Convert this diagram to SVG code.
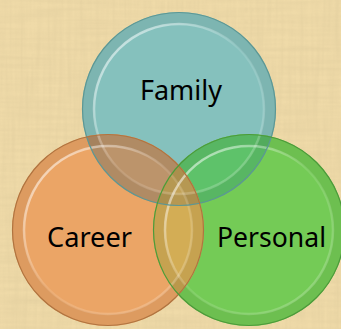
<svg xmlns="http://www.w3.org/2000/svg" width="341" height="329" viewBox="0 0 341 329">
<defs>
  <filter id="paper" x="0" y="0" width="100%" height="100%">
    <feTurbulence type="fractalNoise" baseFrequency="0.015 0.25" numOctaves="2" seed="3" result="n1"/>
    <feTurbulence type="fractalNoise" baseFrequency="0.25 0.015" numOctaves="2" seed="7" result="n2"/>
    <feBlend in="n1" in2="n2" mode="multiply" result="n"/>
    <feColorMatrix in="n" type="matrix" values="0 0 0 0 0.55  0 0 0 0 0.45  0 0 0 0 0.25  -1.2 0 0 0 0.75"/>
  </filter>
  <clipPath id="clipF"><circle cx="179" cy="109" r="97"/></clipPath>
  <clipPath id="clipC"><circle cx="108" cy="230" r="96"/></clipPath>
  <clipPath id="clipP"><circle cx="249" cy="230" r="96"/></clipPath>
  <linearGradient id="hl" x1="0" y1="0" x2="1" y2="1">
    <stop offset="0" stop-color="#ffffff" stop-opacity="0.7"/>
    <stop offset="0.5" stop-color="#ffffff" stop-opacity="0.1"/>
    <stop offset="1" stop-color="#ffffff" stop-opacity="0.25"/>
  </linearGradient>
  <style>
    .lbl { font-family: "Noto Sans", "Open Sans", "Liberation Sans", sans-serif; font-size: 28px; fill: #000000; text-anchor: middle; }
    .edge { fill: none; stroke-width: 1.2; }
    .rim { fill: none; stroke-width: 11; stroke: #000000; stroke-opacity: 0.06; }
    .hi { fill: none; stroke: url(#hl); stroke-width: 2.5; }
  </style>
</defs>

<!-- background -->
<rect x="0" y="0" width="341" height="329" fill="#efdaa8"/>
<rect x="0" y="0" width="341" height="329" filter="url(#paper)" opacity="0.35"/>

<!-- base fills -->
<g id="family">
  <circle cx="179" cy="109" r="97" fill="#85c1bd"/>
</g>
<g id="career">
  <circle cx="108" cy="230" r="96" fill="#eba566"/>
</g>
<g id="personal">
  <circle cx="249" cy="230" r="96" fill="#74cb56"/>
</g>

<!-- overlap regions -->
<g id="overlaps">
  <g clip-path="url(#clipF)"><circle cx="108" cy="230" r="96" fill="#bc946b"/></g>
  <g clip-path="url(#clipF)"><circle cx="249" cy="230" r="96" fill="#5ec26a"/></g>
  <g clip-path="url(#clipC)"><circle cx="249" cy="230" r="96" fill="#d3ad55"/></g>
  <g clip-path="url(#clipF)"><g clip-path="url(#clipC)"><circle cx="249" cy="230" r="96" fill="#c2a258"/></g></g>
</g>

<!-- bevel rims, highlights and edges -->
<g id="bevels">
  <circle class="rim" cx="179" cy="109" r="91"/>
  <circle class="rim" cx="108" cy="230" r="90"/>
  <circle class="rim" cx="249" cy="230" r="90"/>
  <circle class="hi" cx="179" cy="109" r="85"/>
  <circle class="hi" cx="108" cy="230" r="84"/>
  <circle class="hi" cx="249" cy="230" r="84"/>
  <circle class="edge" cx="179" cy="109" r="96.5" stroke="#5d9794"/>
  <circle class="edge" cx="108" cy="230" r="95.5" stroke="#b07440"/>
  <circle class="edge" cx="249" cy="230" r="95.5" stroke="#4c9a3a"/>
</g>

<!-- labels -->
<g id="labels">
  <text class="lbl" x="181" y="100" textLength="82" lengthAdjust="spacingAndGlyphs">Family</text>
  <text class="lbl" x="89.5" y="247" textLength="85" lengthAdjust="spacingAndGlyphs">Career</text>
  <text class="lbl" x="271.5" y="247" textLength="109" lengthAdjust="spacingAndGlyphs">Personal</text>
</g>
</svg>
